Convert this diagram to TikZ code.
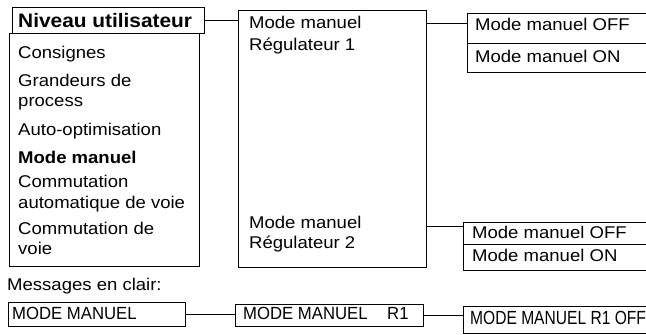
\documentclass[tikz,border=0pt]{standalone}
\usepackage{fontspec}
\setmainfont{Liberation Sans}
\newfontfamily\bodyf[FakeStretch=1.09]{Liberation Sans}
\newfontfamily\headf[FakeStretch=1.07]{Liberation Sans}
\newfontfamily\msgf[FakeStretch=0.95]{Liberation Sans}
\newfontfamily\condf[FakeStretch=0.82]{Liberation Sans}
\usetikzlibrary{calc}
\begin{document}
\begin{tikzpicture}[x=1pt,y=-1pt,
  box/.style={draw, line width=1pt, rectangle, inner sep=0pt},
  txt/.style={anchor=base west, inner sep=0pt, font=\bodyf\fontsize{17}{20}\selectfont},
  hdtxt/.style={anchor=base west, inner sep=0pt, font=\headf\bfseries\fontsize{19.5}{22}\selectfont},
  msgtxt/.style={anchor=base west, inner sep=0pt, font=\msgf\fontsize{17.6}{20}\selectfont},
  condtxt/.style={anchor=base west, inner sep=0pt, font=\condf\fontsize{19}{22}\selectfont},
  conn/.style={line width=1pt}]
\useasboundingbox (0,0) rectangle (646,335);
\clip (0,0) rectangle (646,335);
% boxes
\node[box, minimum width=192pt, minimum height=26pt] (hdr) at (108,20) {};
\node[box, minimum width=190pt, minimum height=233pt] (lst) at (104,149.5) {};
\node[box, minimum width=188pt, minimum height=257pt] (mid) at (332,138.5) {};
\node[box, minimum width=193pt, minimum height=30pt] (r1a) at (563.5,28) {};
\node[box, minimum width=193pt, minimum height=29pt] (r1b) at (563.5,57.5) {};
\node[box, minimum width=197pt, minimum height=22pt] (r2a) at (561.5,233) {};
\node[box, minimum width=197pt, minimum height=26pt] (r2b) at (561.5,257) {};
\node[box, minimum width=177pt, minimum height=24pt] (m0) at (96.5,314) {};
\node[box, minimum width=188pt, minimum height=22pt] (m1) at (329,315) {};
\node[box, minimum width=197pt, minimum height=27pt] (m2) at (561.5,319.5) {};
% texts
\node[hdtxt] (t0) at (18,27) {Niveau utilisateur};
\node[txt] (t1) at (18,58) {Consignes};
\node[txt] (t2) at (18,86) {Grandeurs de};
\node[txt] (t3) at (18,106) {process};
\node[txt] (t4) at (18,135) {Auto-optimisation};
\node[txt] (t5) at (18,163) {\bfseries Mode manuel};
\node[txt] (t6) at (18,187) {Commutation};
\node[txt] (t7) at (18,208) {automatique de voie};
\node[txt] (t8) at (18,234) {Commutation de};
\node[txt] (t9) at (18,254) {voie};
\node[txt] (u1) at (249,28) {Mode manuel};
\node[txt] (u2) at (249,50) {Régulateur 1};
\node[txt] (u3) at (249,228) {Mode manuel};
\node[txt] (u4) at (249,248) {Régulateur 2};
\node[txt] (v1) at (475,30) {Mode manuel OFF};
\node[txt] (v2) at (475,62) {Mode manuel ON};
\node[txt] (v3) at (472,238) {Mode manuel OFF};
\node[txt] (v4) at (472,261) {Mode manuel ON};
\node[txt] (msg) at (7,290) {Messages en clair:};
\node[msgtxt] (w1) at (12,319) {MODE MANUEL};
\node[msgtxt] (w2) at (243,319) {MODE MANUEL};
\node[msgtxt] (w3) at (387,319) {R1};
\node[condtxt] (w4) at (470,324) {MODE MANUEL R1 OFF};
% connectors
\coordinate (c1) at ($(r1a.north west)!0.37!(r1a.south west)$);
\coordinate (c2) at ($(r2a.north west)!0.2!(r2a.south west)$);
\draw[conn] (hdr.east) -- (hdr.east -| mid.west);
\draw[conn] (c1 -| mid.east) -- (c1);
\draw[conn] (c2 -| mid.east) -- (c2);
\draw[conn] (m0.east) -- (m0.east -| m1.west);
\draw[conn] (m1.east) -- (m1.east -| m2.west);
\end{tikzpicture}
\end{document}
